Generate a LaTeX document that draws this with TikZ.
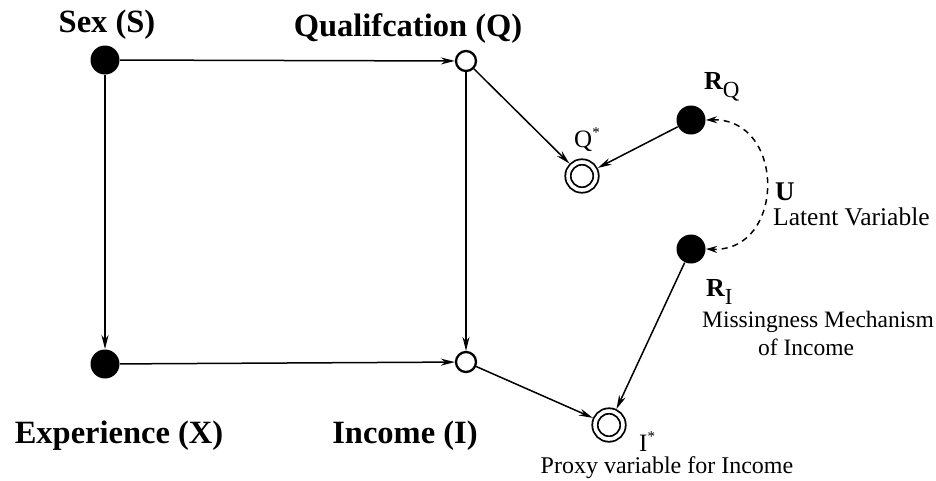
\documentclass[tikz,border=0pt]{standalone}
\usepackage{fontspec}
\setmainfont{Liberation Serif}
\usetikzlibrary{arrows.meta}
\begin{document}
\begin{tikzpicture}[x=1pt,y=-1pt,
  filled/.style={circle,fill=black,inner sep=0pt,minimum size=29pt,outer sep=0.5pt},
  opennode/.style={circle,draw,line width=2.3pt,inner sep=0pt,minimum size=20pt},
  proxy/.style={circle,draw,double,double distance=3.6pt,line width=1.8pt,inner sep=0pt,minimum size=28pt,outer sep=3.7pt},
  arr/.style={line width=1.5pt,-{Stealth[length=14pt,width=7pt]}},
  darr/.style={line width=1.5pt,dash pattern=on 6pt off 5pt,{Stealth[length=11pt,width=7pt]}-{Stealth[length=11pt,width=7pt]}},
  bl/.style={font=\fontsize{32.5}{38}\selectfont\bfseries,inner sep=0pt,anchor=base},
  rl/.style={inner sep=0pt,anchor=base west},
  reg/.style={inner sep=0pt,anchor=base,font=\fontsize{23.5}{28}\selectfont}
]
\useasboundingbox (0,0) rectangle (936,480);
\node[filled] (S) at (105,60) {};
\node[opennode] (Q) at (466,61) {};
\node[filled] (X) at (105,364) {};
\node[opennode] (I) at (466,362) {};
\node[proxy] (Qs) at (582,176) {};
\node[proxy] (Is) at (609,425) {};
\node[filled] (RQ) at (691,120) {};
\node[filled] (RI) at (691,249) {};

\draw[arr] (S) -- (Q);
\draw[arr] (S) -- (X);
\draw[arr] (X) -- (I);
\draw[arr] (Q) -- (I);
\draw[arr] (Q) -- (Qs);
\draw[arr] (RQ) -- (Qs);
\draw[arr] (I) -- (Is);
\draw[arr] (RI) -- (Is);
\draw[darr] (RQ.east) .. controls (786,118) and (786,252) .. (RI.east);

\node[bl] (lS) at (107,32) {Sex (S)};
\node[bl] (lQ) at (408,36) {Qualifcation (Q)};
\node[bl] (lX) at (119,443) {Experience (X)};
\node[bl] (lI) at (405,443) {Income (I)};

\node[rl,font=\fontsize{25}{29}\selectfont] (lQs) at (574,147) {Q\raisebox{10pt}{\fontsize{15}{17}\selectfont *}};
\node[rl,font=\fontsize{25}{29}\selectfont] (lIs) at (639,451) {I\raisebox{10pt}{\fontsize{15}{17}\selectfont *}};

\node[rl,font=\fontsize{26}{30}\selectfont\bfseries] (lRQ) at (704,89) {R\raisebox{-8pt}{\fontsize{23}{27}\selectfont\mdseries Q}};
\node[rl,font=\fontsize{26}{30}\selectfont\bfseries] (lRI) at (706,296) {R\raisebox{-8pt}{\fontsize{23}{27}\selectfont\mdseries I}};
\node[rl,font=\fontsize{27}{31}\selectfont\bfseries] (lU) at (775,200) {U};
\node[rl,font=\fontsize{25.5}{30}\selectfont] (lLat) at (773,225) {Latent Variable};
\node[reg] (lMis1) at (818,327) {Missingness Mechanism};
\node[reg] (lMis2) at (806,355) {of Income};
\node[reg,font=\fontsize{24}{28}\selectfont] (lProxy) at (667,473) {Proxy variable for Income};
\end{tikzpicture}
\end{document}
